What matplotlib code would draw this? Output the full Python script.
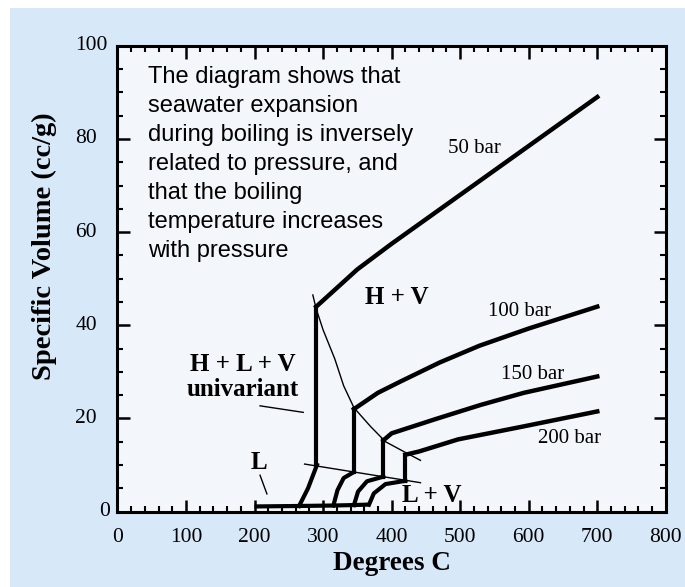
import matplotlib
matplotlib.use("Agg")
import matplotlib.pyplot as plt
from matplotlib.patches import Rectangle
from matplotlib.ticker import MultipleLocator
from matplotlib.transforms import blended_transform_factory

# === Data (Degrees C, cc/g) ===
liq_t = [200, 265, 315, 345, 367]
liq_v = [1.1, 1.2, 1.3, 1.4, 1.5]

# liquid branch up to L + V boundary, per pressure
rise_t = {
    "50": [265, 278, 291],
    "100": [315, 321, 330, 345],
    "150": [345, 351, 364, 388],
    "200": [367, 374, 391, 420],
}
rise_v = {
    "50": [1.2, 5.0, 10.0],
    "100": [1.3, 4.6, 7.2, 8.5],
    "150": [1.4, 4.3, 6.5, 7.5],
    "200": [1.5, 3.9, 5.9, 6.6],
}

# three-phase (H + L + V) vertical jumps
jump_t = [290, 345, 388, 420]
jump_lo = [10.0, 8.5, 7.5, 6.6]
jump_hi = [44.0, 22.0, 15.3, 12.2]

# vapour branches
vap_t = {
    "50": [290, 320, 350, 400, 500, 600, 700],
    "100": [345, 380, 414, 470, 528, 600, 700],
    "150": [388, 400, 465, 530, 593, 700],
    "200": [420, 440, 497, 593, 700],
}
vap_v = {
    "50": [44.0, 48.0, 52.0, 57.5, 68.0, 78.5, 89.0],
    "100": [22.0, 25.5, 28.0, 32.0, 35.6, 39.3, 44.0],
    "150": [15.3, 16.8, 19.9, 22.9, 25.5, 29.0],
    "200": [12.2, 12.9, 15.5, 18.3, 21.5],
}

# thin phase boundaries
hv_t = [285, 290, 300, 317, 330, 345, 369, 391, 420, 442]
hv_v = [46.5, 43.5, 39.0, 32.8, 27.0, 22.3, 18.3, 15.0, 12.7, 11.0]
lv_t = [273, 442]
lv_v = [10.2, 6.2]

# label pointers
uni_t = [208, 271]
uni_v = [22.7, 21.3]
l_t = [208, 218]
l_v = [7.8, 3.8]

bar_labels = ["50 bar", "100 bar", "150 bar", "200 bar"]
bar_t = [521, 586, 606, 660]
bar_v = [78, 43, 29.4, 15.7]

y_ticks = [0, 20, 40, 60, 80, 100]

note = ("The diagram shows that\nseawater expansion\nduring boiling is inversely\n"
        "related to pressure, and\nthat the boiling\ntemperature increases\nwith pressure")

# === Figure ===
serif = ["Liberation Serif", "DejaVu Serif"]
fig = plt.figure(figsize=(6.85, 5.87), dpi=100, facecolor="white")
fig.patches.append(Rectangle((10 / 685, 0), 1, 1 - 8 / 587, transform=fig.transFigure,
                             facecolor="#d7e8f9", edgecolor="none", zorder=-10))

ax = fig.add_axes([0.1715, 0.1285, 0.8005, 0.7935])
ax.set_facecolor("#f3f6fa")

k = "black"
ax.plot(liq_t, liq_v, color=k, lw=3, solid_capstyle="butt")
for p in rise_t:
    ax.plot(rise_t[p], rise_v[p], color=k, lw=3, solid_joinstyle="round")
for t, lo, hi in zip(jump_t, jump_lo, jump_hi):
    ax.plot([t, t], [lo, hi], color=k, lw=3)
for p in vap_t:
    ax.plot(vap_t[p], vap_v[p], color=k, lw=3.2, solid_joinstyle="round")
ax.plot(hv_t, hv_v, color=k, lw=1)
ax.plot(lv_t, lv_v, color=k, lw=1)
ax.plot(uni_t, uni_v, color=k, lw=1)
ax.plot(l_t, l_v, color=k, lw=1)

for s, t, v in zip(bar_labels, bar_t, bar_v):
    ax.text(t, v, s, family=serif, fontsize=15, ha="center", va="center")

bold = dict(family=serif, fontsize=18, fontweight="bold", ha="center", va="center")
ax.text(407, 46, "H + V", **bold)
ax.text(183, 31.6, "H + L + V", **bold)
ax.text(183, 26.2, "univariant", **bold)
ax.text(207, 10.6, "L", **bold)
ax.text(458, 3.4, "L + V", **bold)

ax.text(44.5, 95.6, note, family=["Liberation Sans", "DejaVu Sans"], fontsize=17,
        ha="left", va="top", linespacing=1.41)

ax.set_xlim(0, 800)
ax.set_ylim(0, 100)
ax.xaxis.set_major_locator(MultipleLocator(100))
ax.xaxis.set_minor_locator(MultipleLocator(20))
ax.set_yticks(y_ticks)
ax.yaxis.set_minor_locator(MultipleLocator(5))
ax.tick_params(which="both", direction="in", top=True, right=True, colors="black",
               labelsize=15.5, labelleft=False)
ax.tick_params(which="major", length=9, width=1.8, pad=12)
ax.tick_params(which="minor", length=4.5, width=1.5)
for lab in ax.get_xticklabels():
    lab.set_family(serif)
for sp in ax.spines.values():
    sp.set_linewidth(2.2)

# y tick labels: left-aligned column as in the original, "0" tucked next to the axis
ytr = blended_transform_factory(ax.transAxes, ax.transData)
for v in y_ticks:
    if v == 0:
        ax.text(-0.013, v, str(v), transform=ytr, family=serif, fontsize=15.5,
                ha="right", va="center")
    else:
        ax.text(-0.077, v, str(v), transform=ytr, family=serif, fontsize=15.5,
                ha="left", va="center")

ax.set_xlabel("Degrees C", family=serif, fontsize=19.5, fontweight="bold", labelpad=3)
ax.set_ylabel("Specific Volume (cc/g)", family=serif, fontsize=20.5, fontweight="bold")
ax.yaxis.set_label_coords(-0.11, 0.57)

fig.savefig("out.png", dpi=100, facecolor=fig.get_facecolor())
